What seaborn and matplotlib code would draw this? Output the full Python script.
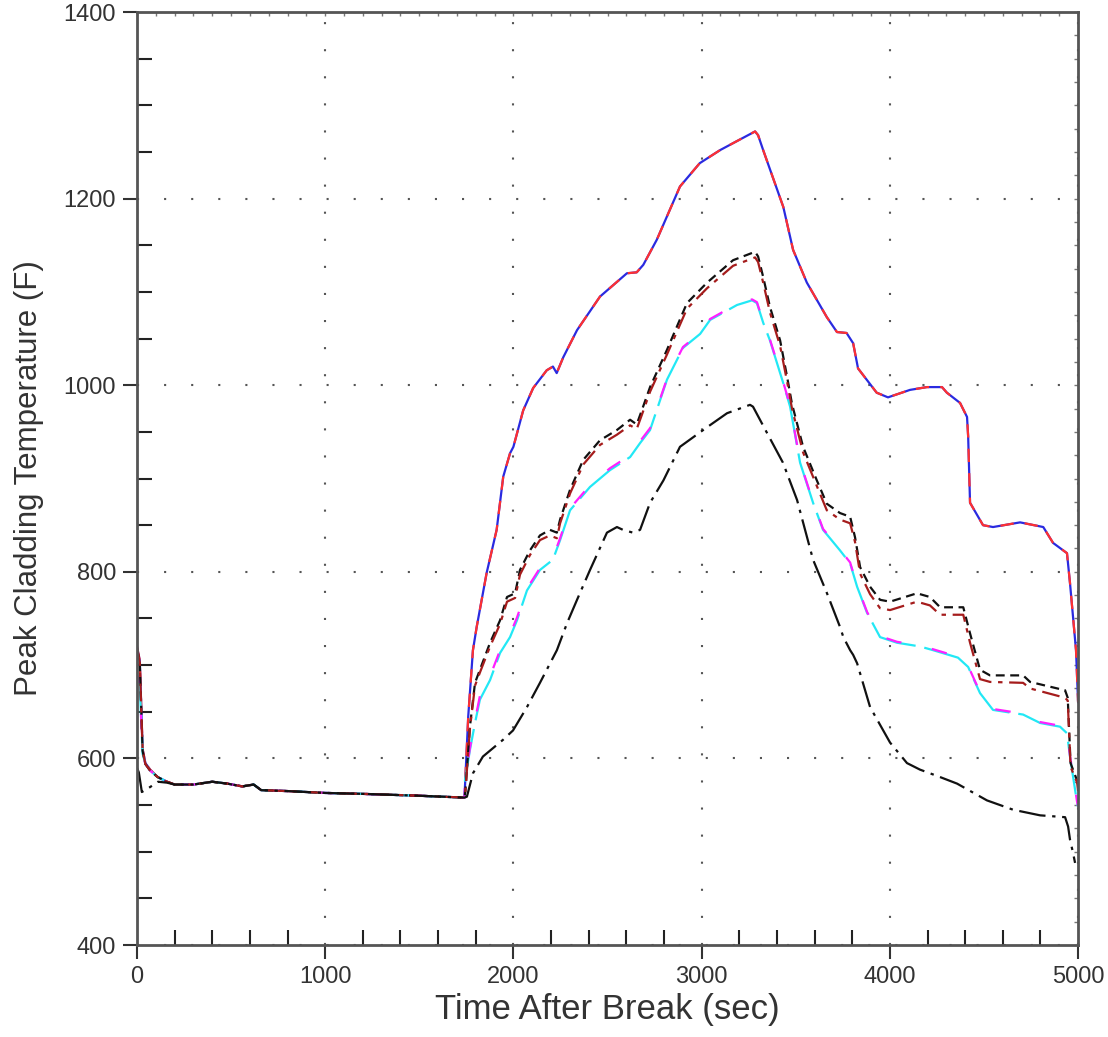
import matplotlib
matplotlib.use('Agg')
import matplotlib.pyplot as plt
from matplotlib.ticker import MultipleLocator
import numpy as np
import pandas as pd
import seaborn as sns

# shared plateau, all cases sit on top of each other here
base_x = [200, 300, 400, 480, 560, 620, 660, 800, 1000, 1200, 1500, 1740]
base_y = [572, 572, 575, 573, 570, 572, 566, 565, 563, 562, 560, 558]

# blowdown spike at the start
hot_start_x = [0, 15, 30, 45, 70, 110, 160]
hot_start_y = [720, 705, 610, 595, 588, 580, 575]
mid_start_y = [718, 703, 608, 594, 587, 580, 575]
cool_start_y = [690, 678, 605, 594, 587, 580, 575]
low_start_x = [0, 10, 26, 60, 112, 160]
low_start_y = [590, 585, 564, 568, 575, 574]

# heatup / quench part of each case
top_x = [1760, 1785, 1805, 1858, 1911, 1946, 1982, 2000, 2052, 2105, 2177, 2210, 2230,
         2265, 2338, 2460, 2603, 2655, 2690, 2762, 2885, 2990, 3098, 3200, 3284, 3300,
         3327, 3434, 3486, 3559, 3665, 3719, 3770, 3805, 3831, 3930, 3990, 4107, 4197,
         4277, 4303, 4373, 4410, 4416, 4426, 4495, 4548, 4692, 4815, 4867, 4941, 4957,
         4989, 5000]
top_y = [645, 716, 741, 799, 845, 902, 927, 934, 973, 997, 1016, 1020, 1013,
         1030, 1059, 1095, 1120, 1121, 1129, 1156, 1213, 1238, 1252, 1263, 1272, 1268,
         1252, 1191, 1145, 1110, 1073, 1057, 1056, 1045, 1018, 992, 987, 995, 998,
         998, 992, 981, 966, 945, 874, 850, 848, 853, 848, 831, 820, 788,
         716, 660]

dash_x = [1745, 1769, 1796, 1822, 1876, 1929, 1966, 2009, 2035, 2088, 2141, 2194, 2231,
          2248, 2301, 2371, 2460, 2550, 2620, 2655, 2682, 2726, 2816, 2922, 3029, 3167,
          3284, 3300, 3327, 3363, 3417, 3455, 3480, 3539, 3612, 3665, 3735, 3789, 3815,
          3842, 3895, 3948, 4001, 4144, 4213, 4267, 4390, 4426, 4479, 4532, 4708, 4745,
          4931, 4945, 4960, 4995, 5000]
dash_y = [565, 634, 681, 695, 724, 748, 773, 777, 802, 823, 839, 845, 842,
          856, 888, 920, 941, 952, 963, 958, 973, 998, 1038, 1088, 1110, 1134,
          1143, 1138, 1116, 1084, 1048, 1008, 980, 934, 898, 873, 863, 859, 837,
          805, 784, 770, 768, 777, 773, 762, 762, 734, 695, 689, 689, 682,
          673, 665, 595, 576, 570]
dkred_y = [565, 632, 678, 692, 720, 744, 768, 772, 797, 818, 834, 839, 836,
           852, 884, 915, 936, 947, 957, 953, 968, 993, 1033, 1082, 1104, 1128,
           1137, 1132, 1110, 1078, 1042, 1003, 975, 928, 892, 866, 856, 852, 832,
           798, 776, 761, 759, 768, 764, 754, 754, 724, 685, 682, 681, 675,
           665, 662, 591, 574, 565]

cyan_x = [1743, 1769, 1796, 1822, 1876, 1929, 1982, 2019, 2072, 2141, 2210, 2248, 2301,
          2407, 2513, 2620, 2673, 2726, 2816, 2901, 2992, 3045, 3188, 3268, 3294, 3327,
          3363, 3434, 3470, 3523, 3592, 3645, 3735, 3789, 3826, 3879, 3948, 4038, 4160,
          4230, 4362, 4416, 4479, 4548, 4708, 4798, 4904, 4941, 4957, 4995, 5000]
cyan_y = [577, 609, 638, 663, 684, 713, 730, 748, 780, 802, 813, 834, 866,
          891, 909, 923, 938, 952, 1006, 1040, 1055, 1070, 1086, 1091, 1088, 1067,
          1048, 1002, 977, 917, 874, 845, 823, 809, 784, 756, 730, 724, 720,
          716, 708, 698, 670, 652, 647, 638, 634, 627, 602, 552, 548]
magenta_y = [577, 611, 641, 667, 688, 716, 733, 751, 782, 804, 815, 836, 868,
             893, 911, 925, 940, 954, 1007, 1041, 1056, 1071, 1087, 1092, 1089, 1068,
             1049, 1003, 978, 918, 875, 846, 824, 810, 785, 757, 731, 725, 721,
             717, 709, 699, 671, 653, 648, 639, 635, 628, 603, 553, 549]

low_x = [1753, 1785, 1838, 1945, 1998, 2072, 2141, 2231, 2285, 2338, 2407, 2497, 2550,
         2582, 2635, 2673, 2726, 2797, 2885, 3029, 3135, 3257, 3273, 3347, 3432, 3507,
         3592, 3666, 3735, 3753, 3789, 3805, 3826, 3895, 4001, 4091, 4160, 4267, 4357,
         4516, 4655, 4798, 4931, 4947, 4957, 4973, 4984]
low_y = [559, 584, 602, 620, 630, 655, 681, 716, 745, 770, 802, 842, 848,
         845, 842, 845, 874, 898, 934, 955, 970, 979, 977, 949, 917, 877,
         813, 777, 741, 730, 716, 711, 702, 655, 617, 595, 588, 580, 573,
         555, 545, 539, 537, 527, 513, 499, 488]

series = [
    ('blue', hot_start_x + base_x + top_x, hot_start_y + base_y + top_y,
     '#2a2ae0', '-'),
    ('red', hot_start_x + base_x + top_x, hot_start_y + base_y + top_y,
     '#ff3030', (0, (6, 5))),
    ('cyan', hot_start_x + base_x + cyan_x, cool_start_y + base_y + cyan_y,
     '#22e8f5', (0, (24, 4))),
    ('magenta', hot_start_x + base_x + cyan_x, cool_start_y + base_y + magenta_y,
     '#ff20ff', (3, (7, 14))),
    ('black dash', hot_start_x + base_x + dash_x, mid_start_y + base_y + dash_y,
     '#111111', (0, (4, 2.5))),
    ('dark red', hot_start_x + base_x + dash_x, mid_start_y + base_y + dkred_y,
     '#a51c1c', (0, (8, 3, 2, 3))),
    ('low', low_start_x + base_x + low_x, low_start_y + base_y + low_y,
     '#111111', (0, (12, 3, 1.5, 3))),
]

sns.set_style('ticks')
plt.rcParams['font.family'] = ['Liberation Sans Narrow', 'Liberation Sans', 'DejaVu Sans']

fig = plt.figure(figsize=(11.08, 10.37), dpi=100)
ax = fig.add_axes([0.1236, 0.0887, 0.8494, 0.8997])

for name, xs, ys, col, ls in series:
    df = pd.DataFrame({'t': xs, 'T': ys})
    sns.lineplot(data=df, x='t', y='T', ax=ax, color=col, linestyle=ls,
                 linewidth=1.6, estimator=None, sort=False)

ax.set_xlim(0, 5000)
ax.set_ylim(400, 1400)
ax.xaxis.set_major_locator(MultipleLocator(1000))
ax.xaxis.set_minor_locator(MultipleLocator(200))
ax.yaxis.set_major_locator(MultipleLocator(200))
ax.yaxis.set_minor_locator(MultipleLocator(50))
ax.grid(True, which='major', color='#555555', linestyle=(0, (1, 12)), linewidth=1.5)

ax.tick_params(which='major', direction='out', length=10, width=1.5,
               color='#333333', labelsize=17, labelcolor='#333333', pad=5)
ax.tick_params(which='minor', direction='in', length=11, width=1.5, color='#222222')

for sp in ax.spines.values():
    sp.set_linewidth(2)
    sp.set_color('#555555')

# tiny ticks on the top and right frame
top = ax.secondary_xaxis('top')
top.xaxis.set_major_locator(MultipleLocator(100))
top.tick_params(direction='in', length=3, width=1, color='#777777', labeltop=False)
right = ax.secondary_yaxis('right')
right.yaxis.set_major_locator(MultipleLocator(25))
right.tick_params(direction='in', length=3, width=1, color='#777777', labelright=False)

ax.set_xlabel('Time After Break (sec)', fontsize=25, color='#333333', labelpad=4)
ax.set_ylabel('Peak Cladding Temperature (F)', fontsize=22.5, color='#333333', labelpad=14)

fig.savefig('out.png', dpi=100)
